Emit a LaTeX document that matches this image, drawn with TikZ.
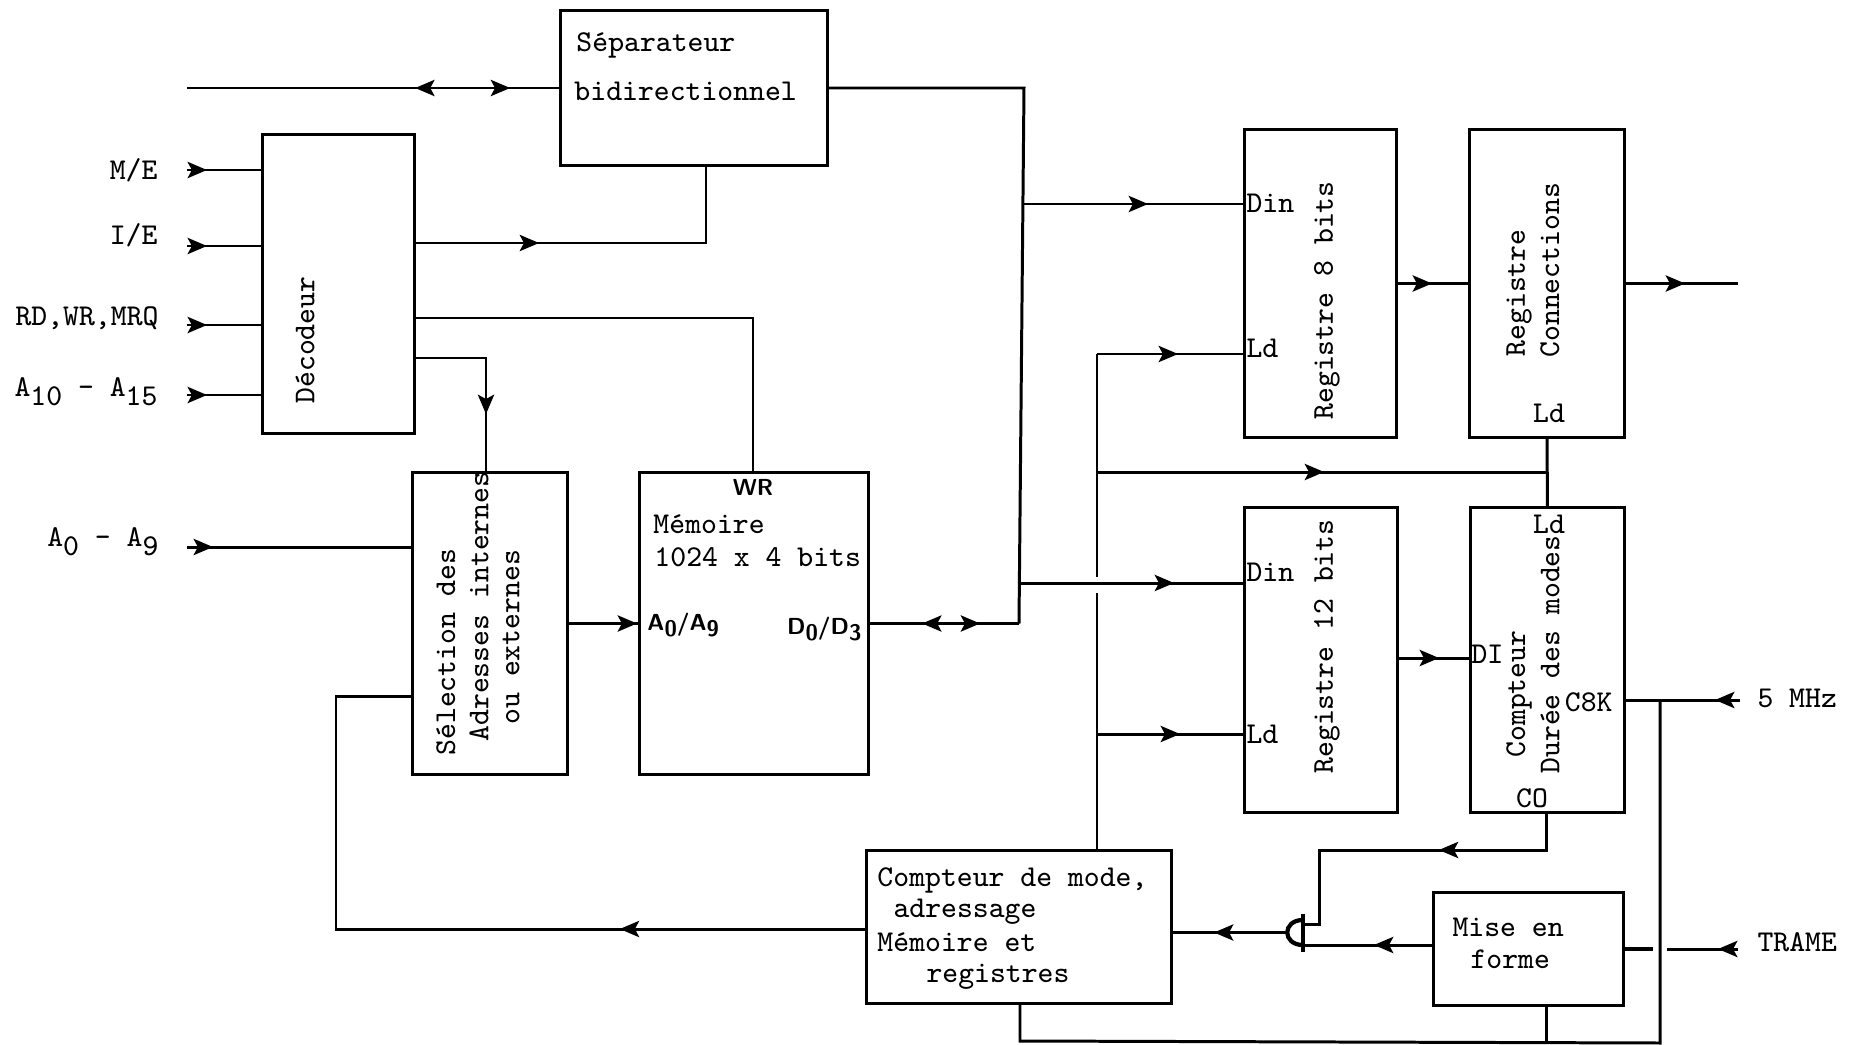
\documentclass[tikz,border=0pt]{standalone}
\usetikzlibrary{arrows.meta,decorations.markings}
\newcommand{\lowidx}[1]{\raisebox{-.7ex}{#1}}
\newcommand{\lowsf}[1]{\raisebox{-.5ex}{\fontsize{6.4}{7}\selectfont #1}}
\tikzset{
  boxnode/.style={draw,rectangle,inner sep=0,outer sep=0,line width=.85pt},
  txtnode/.style={inner sep=0,font=\ttfamily\fontsize{8.6}{10}\selectfont},
  boldnode/.style={inner sep=0,font=\sffamily\bfseries\fontsize{6.6}{8}\selectfont},
  tipat/.style={postaction={decorate,decoration={markings,
    mark=at position #1 with {\arrow{Stealth[length=5.5pt,width=4.6pt,inset=1.2pt]}}}}},
  backtip/.style={postaction={decorate,decoration={markings,
    mark=at position #1 with {\arrowreversed{Stealth[length=5.5pt,width=4.6pt,inset=1.2pt]}}}}}
}
\begin{document}
\begin{tikzpicture}[x=.01cm,y=-.01cm,line width=.85pt]
\useasboundingbox (0,0) rectangle (1850,1045);

        \begin{scope}[every node/.style={boxnode}]
          \node[minimum width=2.66cm,minimum height=1.54cm] (sep)  at (694,88)      {};
          \node[minimum width=1.51cm,minimum height=2.98cm] (dec)  at (338.5,284)   {};
          \node[minimum width=1.54cm,minimum height=3.01cm] (sel)  at (490,623.5)   {};
          \node[minimum width=2.28cm,minimum height=3.01cm] (mem)  at (754,623.5)   {};
          \node[minimum width=1.51cm,minimum height=3.07cm] (rega) at (1320.5,283.5) {};
          \node[minimum width=1.54cm,minimum height=3.07cm] (regc) at (1547,283.5)  {};
          \node[minimum width=1.52cm,minimum height=3.04cm] (regb) at (1321,660)    {};
          \node[minimum width=1.53cm,minimum height=3.04cm] (cpt)  at (1547.5,660)  {};
          \node[minimum width=3.04cm,minimum height=1.52cm] (mode) at (1019,927)    {};
          \node[minimum width=1.89cm,minimum height=1.12cm] (mise) at (1528.5,949)  {};
        \end{scope}

        % porte
        \node[inner sep=0,outer sep=0,minimum width=.16cm,minimum height=.25cm] (gate) at (1295,932.5) {};
        \draw[line width=1.2pt] (gate.north east) .. controls ([xshift=-.05cm]gate.north west) and ([xshift=-.05cm]gate.south west) .. (gate.south east);
        \draw[line width=1.2pt] ([yshift=.06cm]gate.north east) -- ([yshift=-.07cm]gate.south east);

        \begin{scope}[every node/.style={txtnode}]
          \node[anchor=west] (t1) at (575,45) {S\'eparateur};
          \node[anchor=west] (t2) at (573,91) {bidirectionnel};
          \node[anchor=west,rotate=90] (t3) at (305,405) {D\'ecodeur};
          \node[anchor=west,rotate=90] (t4) at (446,757) {S\'election des};
          \node[anchor=west,rotate=90] (t5) at (479,743) {Adresses internes};
          \node[anchor=west,rotate=90] (t6) at (511,726) {ou externes};
          \node[anchor=west] (t7) at (652,524) {M\'emoire};
          \node[anchor=west] (t8) at (653,557) {1024 x 4 bits};
          \node[anchor=west,rotate=90] (t9) at (1327,421) {Registre 8 bits};
          \node[anchor=west,rotate=90] (t10) at (1519,358) {Registre};
          \node[anchor=west,rotate=90] (t11) at (1550,359) {Connections};
          \node[anchor=west,rotate=90] (t12) at (1327,775) {Registre 12 bits};
          \node[anchor=west,rotate=90] (t13) at (1519,759) {Compteur};
          \node[anchor=west,rotate=90] (t14) at (1550,775) {Dur\'ee des modes};
          \node[anchor=west] (t15) at (876,880) {Compteur de mode,};
          \node[anchor=west] (t16) at (892,912) {adressage};
          \node[anchor=west] (t17) at (876,942) {M\'emoire et};
          \node[anchor=west] (t18) at (925,977) {registres};
          \node[anchor=west] (t19) at (1451,927) {Mise en};
          \node[anchor=west] (t20) at (1469,959) {forme};
          % broches
          \node[anchor=west] (p1) at (1245,203) {Din};
          \node[anchor=west] (p2) at (1245,348) {Ld};
          \node[anchor=west] (p3) at (1245,572) {Din};
          \node[anchor=west] (p4) at (1245,734) {Ld};
          \node (p5) at (1549,413) {Ld};
          \node (p6) at (1549,524) {Ld};
          \node[anchor=west] (p7) at (1470,654) {DI};
          \node[anchor=east] (p8) at (1614,702) {C8K};
          \node (p9) at (1532,798) {CO};
          % entrees
          \node[anchor=east] (e1) at (159,170) {M/E};
          \node[anchor=east] (e2) at (159,235) {I/E};
          \node[anchor=east] (e3) at (160,318) {RD,WR,MRQ};
          \node[anchor=east] (e4) at (159,392) {A\lowidx{10} - A\lowidx{15}};
          \node[anchor=east] (e5) at (160,542) {A\lowidx{0} - A\lowidx{9}};
          \node[anchor=west] (e6) at (1756,698) {5 MHz};
          \node[anchor=west] (e7) at (1756,942) {TRAME};
        \end{scope}

        \begin{scope}[every node/.style={boldnode}]
          \node (b1) at (753,487) {WR};
          \node[anchor=west] (b2) at (646,625) {A\lowsf{0}/A\lowsf{9}};
          \node[anchor=east] (b3) at (863,629) {D\lowsf{0}/D\lowsf{3}};
        \end{scope}

        % extremites libres
        \coordinate (xbus) at (187,88);
        \coordinate (x1) at (187,170);
        \coordinate (x2) at (187,246);
        \coordinate (x3) at (187,325);
        \coordinate (x4) at (187,395);
        \coordinate (x5) at (187,547);
        \coordinate (x6) at (1738,283.5);
        \coordinate (x7) at (1740,700);
        \coordinate (x8) at (1738,949);

        % bus de donnees
        \coordinate (ba) at (1024,88);
        \coordinate (bb) at (1019,623.5);
        \coordinate (da) at (1023,204);
        \coordinate (db) at (1020,583);
        \draw[tipat=3.23cm,backtip=2.28cm] (xbus) -- (sep.west);
        \draw (sep.east) -- (ba) -- (bb);
        \draw[tipat=1.12cm,backtip=.54cm] (mem.east) -- (bb);
        \draw[tipat=1.25cm] (da) -- (da -| rega.west);
        \draw[tipat=1.54cm] (db) -- (db -| regb.west);

        % chargement
        \coordinate (ca) at (1097,354);
        \coordinate (cb) at (1097,472);
        \coordinate (cc) at (1097,577);
        \coordinate (cd) at (1097,593);
        \coordinate (ce) at (1097,734);
        \draw (ca) -- (cc);
        \draw (cd) -- (cd |- mode.north);
        \draw[tipat=.81cm] (ca) -- (ca -| rega.west);
        \draw[tipat=.83cm] (ce) -- (ce -| regb.west);
        \draw[tipat=2.27cm] (cb) -- (cb -| regc.south);
        \draw (regc.south) -- (cpt.north);

        % decodeur
        \foreach \i in {1,...,4} {
          \draw[tipat=.2cm] (x\i) -- (x\i -| dec.west);
        }
        \draw[tipat=.26cm] (x5) -- (x5 -| sel.west);
        \coordinate (s1) at (706,243);
        \draw[tipat=1.25cm] (dec.east |- s1) -- (s1) -- (s1 |- sep.south);
        \coordinate (m1) at (753,318);
        \draw (dec.east |- m1) -- (m1) -- (m1 |- mem.north);
        \coordinate (s2) at (486,358);
        \draw[tipat=1.28cm] (dec.east |- s2) -- (s2) -- (s2 |- sel.north);

        % selection, memoire
        \draw[tipat=.7cm] (sel.east) -- (mem.west);
        \coordinate (r1) at (336,929);
        \coordinate (r2) at (336,696);
        \draw[tipat=2.47cm] (mode.west |- r1) -- (r1) -- (r2) -- (r2 -| sel.west);

        % registres
        \draw[tipat=.36cm] (rega.east) -- (regc.west);
        \draw[tipat=.61cm] (regc.east) -- (x6);
        \coordinate (f1) at (1397,658);
        \draw[tipat=.42cm] (regb.east |- f1) -- (cpt.west |- f1);

        % compteur, mise en forme
        \coordinate (c1) at (1546,850);
        \coordinate (c2) at (1319,850);
        \coordinate (c3) at (1319,924);
        \draw[tipat=1.45cm] (c1 |- cpt.south) -- (c1) -- (c2) -- (c3) -- (c3 -| gate.east);
        \coordinate (g1) at (1303,945);
        \draw[tipat=.6cm] (mise.west |- g1) -- (g1);
        \draw[tipat=.73cm] (gate.west) -- (gate.west -| mode.east);

        % horloge
        \coordinate (h1) at (1660,700);
        \coordinate (h2) at (1660,1043);
        \coordinate (h3) at (1020,1041);
        \coordinate (h4) at (1546,1043);
        \draw[tipat=.25cm] (x7) -- (x7 -| cpt.east);
        \draw (h1) -- (h2) -- (h3) -- (h3 |- mode.south);
        \draw (h4) -- (h4 |- mise.south);
        \coordinate (h5) at (1667,949);
        \coordinate (h6) at (1653,949);
        \draw[tipat=.2cm] (x8) -- (h5);
        \draw[line width=1.3pt] (h6) -- (h6 -| mise.east);

\end{tikzpicture}
\end{document}
